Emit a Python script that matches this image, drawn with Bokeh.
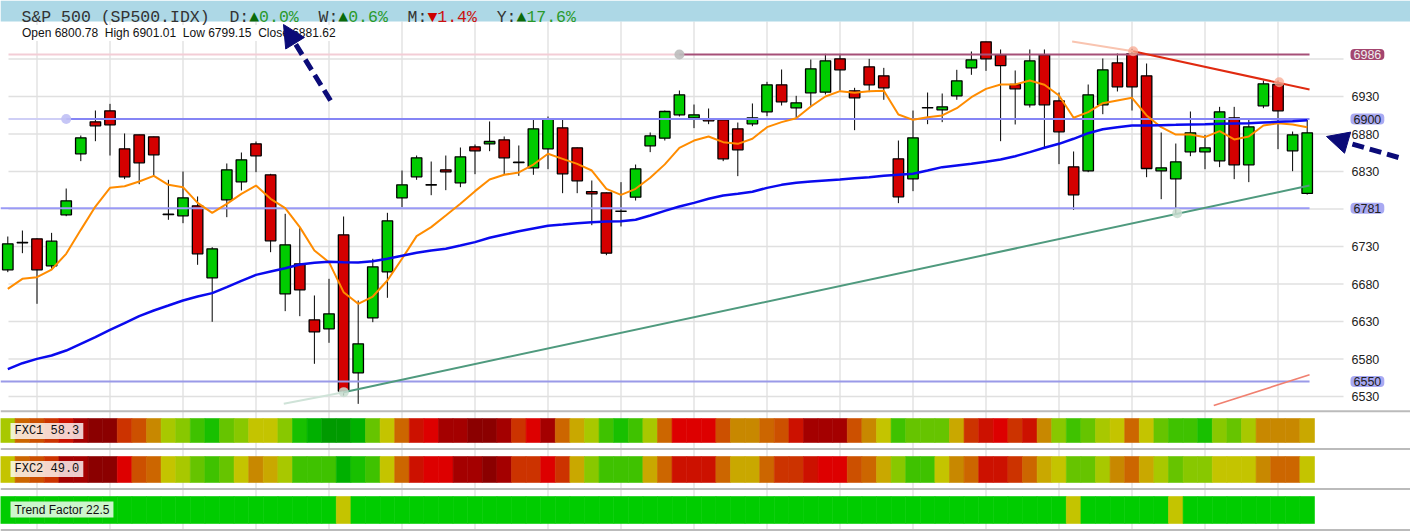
import numpy as np
from bokeh.plotting import figure
from bokeh.models import Range1d, Label, Arrow, NormalHead
from bokeh.core.properties import value
from bokeh.embed import file_html
from bokeh.resources import INLINE

# ---------------- data ----------------
title_text = "S&P 500 (SP500.IDX)"
period_names = ["D", "W", "M", "Y"]
period_changes = [0.0, 0.6, -1.4, 17.6]

opens = [6698.9, 6735.0, 6740.2, 6704.2, 6772.2, 6853.6, 6896.2, 6910.9, 6860.2, 6878.9,
         6876.2, 6772.5, 6770.9, 6784.2, 6688.2, 6792.2, 6816.2, 6866.9, 6825.6, 6666.9,
         6706.9, 6632.2, 6620.2, 6745.6, 6561.6, 6634.9, 6696.2, 6794.9, 6822.9, 6812.0,
         6832.2, 6814.9, 6862.9, 6866.9, 6872.2, 6842.4, 6834.9, 6860.2, 6888.2, 6861.6,
         6803.3, 6801.6, 6777.0, 6795.8, 6864.2, 6874.4, 6905.6, 6901.6, 6900.2, 6898.9,
         6886.9, 6893.6, 6909.6, 6945.6, 6914.9, 6934.9, 6935.8, 6980.2, 6937.6, 6969.6,
         6957.6, 6846.9, 6820.2, 6914.8, 6912.2, 6930.9, 6968.2, 7002.9, 6985.6, 6946.0,
         6918.9, 6985.6, 6924.2, 6836.2, 6830.9, 6918.9, 6974.9, 6986.9, 6957.6, 6830.9,
         6820.2, 6856.2, 6856.2, 6844.2, 6901.6, 6838.9, 6917.6, 6946.0, 6857.6, 6800.78]
highs = [6743.3, 6751.3, 6741.0, 6748.2, 6807.3, 6878.0, 6911.3, 6920.2, 6880.7, 6879.0,
         6876.5, 6818.9, 6830.0, 6796.7, 6729.1, 6840.7, 6855.3, 6870.0, 6826.9, 6773.6,
         6754.4, 6664.7, 6686.9, 6770.0, 6658.0, 6713.6, 6774.9, 6831.3, 6851.3, 6843.3,
         6851.3, 6862.0, 6866.0, 6896.7, 6876.7, 6864.7, 6899.3, 6903.3, 6898.9, 6862.0,
         6818.0, 6802.0, 6815.8, 6839.3, 6882.0, 6911.3, 6938.0, 6919.3, 6914.0, 6899.5,
         6895.3, 6920.7, 6949.6, 6966.0, 6930.9, 6979.3, 6986.9, 6986.9, 6941.6, 6980.2,
         6968.2, 6871.3, 6911.3, 6935.3, 6934.0, 6965.6, 6990.0, 7003.0, 6992.7, 6964.7,
         6992.7, 6992.7, 6935.3, 6856.7, 6946.0, 6980.7, 6987.3, 6993.6, 6974.0, 6882.0,
         6867.3, 6910.0, 6878.9, 6916.2, 6916.2, 6898.9, 6951.3, 6951.3, 6883.3, 6901.01]
lows = [6695.8, 6721.1, 6653.6, 6700.2, 6770.4, 6843.8, 6870.4, 6851.3, 6819.8, 6813.1,
        6824.2, 6765.6, 6761.1, 6705.6, 6629.6, 6769.1, 6804.7, 6829.1, 6722.4, 6643.8,
        6637.1, 6573.6, 6601.6, 6531.3, 6520.2, 6629.1, 6661.6, 6782.4, 6818.9, 6798.4,
        6805.1, 6809.1, 6826.4, 6857.1, 6826.4, 6824.2, 6825.6, 6833.1, 6801.1, 6801.1,
        6758.4, 6718.4, 6756.7, 6791.3, 6855.8, 6871.3, 6903.3, 6887.8, 6893.1, 6843.8,
        6823.8, 6890.4, 6903.8, 6918.0, 6901.6, 6917.6, 6932.7, 6937.6, 6885.1, 6935.8,
        6925.6, 6787.8, 6803.8, 6893.1, 6895.8, 6925.6, 6958.9, 6964.2, 6870.4, 6892.7,
        6915.3, 6861.6, 6839.8, 6778.9, 6829.1, 6906.4, 6936.7, 6911.3, 6822.4, 6793.1,
        6773.1, 6850.4, 6833.1, 6835.8, 6819.8, 6815.8, 6914.4, 6859.8, 6830.4, 6799.15]
closes = [6733.6, 6735.5, 6698.9, 6737.1, 6790.9, 6874.9, 6890.9, 6892.2, 6822.9, 6841.6,
          6852.2, 6773.0, 6794.9, 6720.2, 6726.9, 6832.2, 6845.6, 6850.9, 6737.6, 6732.2,
          6672.2, 6616.2, 6640.2, 6537.1, 6600.2, 6702.9, 6764.2, 6812.2, 6848.2, 6812.4,
          6829.6, 6849.6, 6857.6, 6870.0, 6848.2, 6841.8, 6886.9, 6900.2, 6826.9, 6817.6,
          6800.2, 6721.1, 6777.3, 6833.6, 6877.6, 6910.0, 6932.2, 6905.6, 6897.6, 6846.9,
          6858.9, 6901.6, 6945.6, 6922.9, 6921.6, 6966.9, 6977.6, 6965.6, 6928.2, 6945.6,
          6941.6, 6796.2, 6874.9, 6915.1, 6916.2, 6950.9, 6978.9, 6980.2, 6971.3, 6940.2,
          6977.6, 6918.9, 6882.9, 6798.9, 6932.2, 6965.6, 6942.9, 6942.9, 6834.0, 6834.9,
          6842.9, 6881.6, 6861.6, 6909.6, 6838.9, 6889.6, 6946.9, 6910.9, 6878.9, 6881.62]

ma_fast = [6673.6, 6686.9, 6689.1, 6699.3, 6720.2, 6752.2, 6783.3, 6808.2, 6810.4, 6816.7,
           6824.2, 6812.2, 6809.1, 6788.2, 6774.9, 6786.9, 6800.2, 6811.3, 6793.6, 6781.1,
           6755.8, 6724.7, 6709.1, 6669.1, 6653.6, 6663.3, 6684.7, 6713.6, 6743.8, 6755.8,
           6771.3, 6786.9, 6803.8, 6819.3, 6825.6, 6828.7, 6839.3, 6853.6, 6846.9, 6840.2,
           6831.3, 6806.9, 6798.9, 6806.9, 6821.6, 6839.5, 6861.6, 6871.3, 6876.7, 6869.1,
           6866.9, 6873.6, 6889.1, 6895.8, 6901.1, 6916.7, 6930.0, 6937.1, 6934.9, 6937.1,
           6937.6, 6906.0, 6898.9, 6902.4, 6904.7, 6914.4, 6929.1, 6940.2, 6946.0, 6946.0,
           6951.3, 6945.6, 6931.3, 6901.6, 6909.1, 6921.1, 6924.7, 6928.2, 6904.7, 6889.1,
           6879.3, 6879.3, 6875.8, 6883.8, 6872.7, 6876.7, 6891.3, 6894.4, 6892.7, 6889.1]
ma_slow = [6566.4, 6574.4, 6580.2, 6584.7, 6591.3, 6600.2, 6609.1, 6618.9, 6627.8, 6637.1,
           6644.7, 6651.3, 6658.0, 6663.3, 6667.8, 6675.8, 6684.2, 6692.2, 6696.7, 6701.1,
           6706.0, 6708.2, 6709.6, 6709.1, 6708.7, 6710.4, 6713.6, 6717.6, 6721.6, 6724.7,
           6726.9, 6731.3, 6735.8, 6741.6, 6746.0, 6750.4, 6754.0, 6757.6, 6759.3, 6761.1,
           6762.4, 6763.3, 6763.8, 6765.6, 6771.3, 6777.5, 6783.3, 6788.2, 6793.6, 6798.0,
           6800.2, 6802.9, 6808.2, 6812.2, 6814.9, 6816.7, 6818.0, 6819.3, 6821.1, 6822.4,
           6824.2, 6825.6, 6826.9, 6831.3, 6835.8, 6838.0, 6840.2, 6842.9, 6846.0, 6850.4,
           6855.8, 6861.6, 6866.9, 6873.6, 6881.1, 6886.4, 6889.1, 6891.3, 6891.3, 6891.8,
           6892.2, 6892.7, 6893.1, 6893.6, 6894.0, 6894.4, 6895.3, 6896.2, 6897.1, 6898.4]

grid_prices = [6530, 6580, 6630, 6680, 6730, 6780, 6830, 6880, 6930, 6980]
key_levels = [6986, 6900, 6781, 6550]
key_anchor = [46, 4, None, None]

res_x = [72.9, 77.08, 89.16]
res_y = [7003.3, 6990.4, 6939.3]
res_touch_x = [77.08, 87.08]
res_touch_y = [6990.4, 6949.0]
sup_x = [18.9, 23.01, 89.16]
sup_y = [6520.3, 6535.8, 6811.3]
sup_touch_x = [23.01, 80.1]
sup_touch_y = [6535.8, 6774.4]
chan_x = [82.6, 89.16]
chan_y = [6518.0, 6559.0]

fxc1_levels = [10, 6, 5, 4, 2, 1, 0, 0, 4, 5, 7, 10, 11, 13, 14, 12, 11, 9, 9, 11,
               14, 15, 16, 16, 15, 12, 9, 6, 2, 3, 1, 1, 0, 0, 1, 4, 3, 1, 6, 8,
               10, 13, 14, 13, 10, 6, 3, 3, 3, 5, 7, 7, 6, 5, 2, 1, 1, 1, 5, 7,
               9, 13, 12, 12, 12, 8, 4, 2, 3, 4, 2, 7, 11, 13, 12, 10, 9, 6, 9, 12,
               13, 13, 14, 11, 12, 10, 7, 7, 7, 8]
fxc2_levels = [9, 6, 5, 4, 1, 1, 0, 0, 3, 5, 6, 9, 10, 12, 13, 12, 9, 7, 8, 10,
               13, 13, 13, 15, 14, 13, 9, 6, 2, 3, 3, 1, 1, 0, 1, 4, 4, 3, 4, 8,
               11, 13, 13, 13, 8, 6, 2, 2, 2, 6, 8, 8, 6, 4, 4, 2, 3, 3, 5, 6,
               8, 11, 13, 13, 9, 7, 6, 2, 2, 4, 6, 8, 9, 12, 12, 10, 7, 6, 8, 10,
               12, 11, 11, 9, 9, 9, 7, 6, 6, 9]
trend_levels = [1] * 23 + [0] + [1] * 49 + [0] + [1] * 6 + [0] + [1] * 9
fxc1_last, fxc2_last, trend_last = 58.3, 49.0, 22.5

heat_palette = ["#8b0000", "#a40000", "#cc1100", "#dd0000", "#cc3300", "#cc5000",
                "#cc6600", "#c88800", "#c9a800", "#c4c400", "#a8c800", "#88c800",
                "#66c400", "#3fc200", "#18c000", "#00b000", "#009a00"]
trend_palette = ["#c4c400", "#00cc00"]

# ---------------- figure ----------------
W, H = 1410, 531
X0, DX = 7.3, 14.6
n = len(closes)
idx = np.arange(n)

p = figure(width=W, height=H, x_range=Range1d(-X0 / DX, (W - X0) / DX),
           y_range=Range1d(6350, 7058), output_backend="svg", toolbar_location=None,
           min_border=0, x_axis_location=None, y_axis_location=None,
           outline_line_color=None, background_fill_color="white",
           border_fill_color="white")
p.extra_x_ranges = {"px": Range1d(0, W)}
p.extra_y_ranges = {"px": Range1d(H, 0)}
p.grid.visible = False

# grid
vgrid = idx[2::5]
p.segment(x0=vgrid, y0=21, x1=vgrid, y1=H, y_range_name="px",
          line_color="#e3e3e3", line_width=1.5)
p.segment(x0=8, y0=grid_prices, x1=1343, y1=grid_prices, x_range_name="px",
          line_color="#e0e0e0", line_width=1.5)

# header
p.quad(left=0, right=W, top=0, bottom=21, x_range_name="px", y_range_name="px",
       fill_color="#add8e6", line_color=None)
cw, hx0 = 9.9, 21
hx, ht, hc = [hx0], [title_text], ["#333333"]
k = len(title_text) + 2
for name, ch in zip(period_names, period_changes):
    up = ch >= 0
    hx += [hx0 + cw * k, hx0 + cw * (k + 2), hx0 + cw * (k + 3)]
    ht += [name + ":", "\u25B2" if up else "\u25BC", f"{abs(ch):.1f}%"]
    hc += ["#333333", "#0a6a0a" if up else "#cc0000", "#2a9a2a" if up else "#cc1010"]
    k += len(name) + 2 + len(f"{abs(ch):.1f}%") + 2
p.text(x=hx, y=[16.5] * len(hx), text=ht, text_color=hc, x_range_name="px",
       y_range_name="px", text_font=value("Liberation Mono"), text_font_size="16.5px",
       text_baseline="alphabetic", text_align="left")

# indicator strips
sep_y = [410.8, 448.5, 488.5, 529.5]
p.segment(x0=0, y0=sep_y, x1=W, y1=sep_y, x_range_name="px", y_range_name="px",
          line_color="#bbbbbb", line_width=2)
for lv, pal, top, bot in [(fxc1_levels, heat_palette, 418, 442),
                          (fxc2_levels, heat_palette, 456, 482),
                          (trend_levels, trend_palette, 496, 523)]:
    cols = [pal[v] for v in lv]
    p.quad(left=idx - 0.5, right=idx + 0.5, top=top, bottom=bot, y_range_name="px",
           fill_color=cols, line_color=cols, line_width=0.6)

# candles
o = np.array(opens); c = np.array(closes)
body_top = np.maximum(o, c); body_bot = np.minimum(o, c)
body_col = ["#00cc00" if cc >= oo else "#d40000" for oo, cc in zip(opens, closes)]
p.segment(x0=idx, y0=highs, x1=idx, y1=lows, line_color="black", line_width=1)
p.vbar(x=idx, width=0.72, top=body_top, bottom=body_bot, fill_color=body_col,
       line_color="black", line_width=1.3)

# key horizontal levels
end_idx = n - 1 + 0.16
start_idx = (8 - X0) / DX
faint = ["#f3cdd6", "#cfcff6", None, None]
dark = ["#a65078", "#8585f5", "#9a9af5", "#9a9ae8"]
anchor_col = ["#bdbdbd", "#c0c0f5", None, None]
for lv, an, fc, dc, ac in zip(key_levels, key_anchor, faint, dark, anchor_col):
    if an is None:
        p.line(x=[-X0 / DX, end_idx], y=[lv, lv], line_color=dc, line_width=2)
    else:
        p.line(x=[start_idx, an], y=[lv, lv], line_color=fc, line_width=2)
        p.line(x=[an, end_idx], y=[lv, lv], line_color=dc, line_width=2)
        p.scatter(x=[an], y=[lv], size=10, fill_color=ac, line_color=None, fill_alpha=0.9)

# moving averages
p.line(idx, ma_fast, line_color="#ff8c00", line_width=2)
p.line(idx, ma_slow, line_color="#0a0aee", line_width=2.5)

# trend lines
p.line(res_x[:2], res_y[:2], line_color="#f9c4b0", line_width=2)
p.line(res_x[1:], res_y[1:], line_color="#e02a10", line_width=2)
p.scatter(res_touch_x, res_touch_y, size=10, fill_color="#f8a890", fill_alpha=0.75, line_color=None)
p.line(sup_x[:2], sup_y[:2], line_color="#cfe3d8", line_width=2)
p.line(sup_x[1:], sup_y[1:], line_color="#4f9a7e", line_width=2)
p.scatter(sup_touch_x, sup_touch_y, size=10, fill_color="#c8ddd0", fill_alpha=0.85, line_color=None)
p.line(chan_x, chan_y, line_color="#f08070", line_width=1.6)

# price labels
tick_vals = [g for g in grid_prices if all(abs(g - kl) > 12 for kl in key_levels)]
p.text(x=[1351] * len(tick_vals), y=tick_vals, text=[str(t) for t in tick_vals],
       x_range_name="px", text_font=value("Liberation Sans"), text_font_size="12.5px",
       text_color="#222222", text_baseline="middle", text_align="left")
key_bg = ["#a3456f", "#a9a9f2", "#a9a9f2", "#a9a9f2"]
key_fg = ["#eeeeee", "#202020", "#202020", "#202020"]
for lv, bg, fg in zip(key_levels, key_bg, key_fg):
    p.add_layout(Label(x=1350, y=lv, x_range_name="px", text=str(lv),
                       text_font="Liberation Sans", text_font_size="12.5px",
                       text_color=fg, text_baseline="middle", text_align="left",
                       background_fill_color=bg, padding=(3, 1), border_radius=4))

# info line (non-breaking double gaps so SVG keeps them)
gap = "\u00a0\u00a0"
info = gap.join([f"Open {opens[-1]:.2f}", f"High {highs[-1]:.2f}",
                 f"Low {lows[-1]:.2f}", f"Close {closes[-1]:.2f}"])
p.add_layout(Label(x=20.5, y=32.5, x_range_name="px", y_range_name="px", text=info,
                   text_font="Liberation Sans", text_font_size="12px", text_color="#111111",
                   text_baseline="middle", text_align="left",
                   background_fill_color="white", padding=(1, 1)))

# strip labels
for ty, txt, fnt in [(430.5, f"FXC1 {fxc1_last:.1f}", "Liberation Mono"),
                     (468.5, f"FXC2 {fxc2_last:.1f}", "Liberation Mono"),
                     (509, f"Trend Factor {trend_last:.1f}", "Liberation Sans")]:
    p.add_layout(Label(x=10, y=ty, x_range_name="px", y_range_name="px", text=txt,
                       text_font=fnt, text_font_size="12px", text_color="#111111",
                       text_baseline="middle", text_align="left",
                       background_fill_color="white", background_fill_alpha=0.8,
                       padding=(4, 1)))

# annotation arrows
navy = "#0b0b78"
for xs, ys, xe, ye in [(330, 100, 283, 24), (1398, 157, 1326, 136)]:
    p.add_layout(Arrow(x_start=xs, y_start=ys, x_end=xe, y_end=ye,
                       x_range_name="px", y_range_name="px",
                       line_color=navy, line_width=5, line_dash="12 6",
                       end=NormalHead(size=22, fill_color=navy, line_color=navy)))

html = file_html(p, INLINE, title="S&P 500")
html = html.replace("<head>", "<head>\n<style>html,body{margin:0;padding:0;overflow:hidden;}</style>", 1)
open("out.html", "w").write(html)
